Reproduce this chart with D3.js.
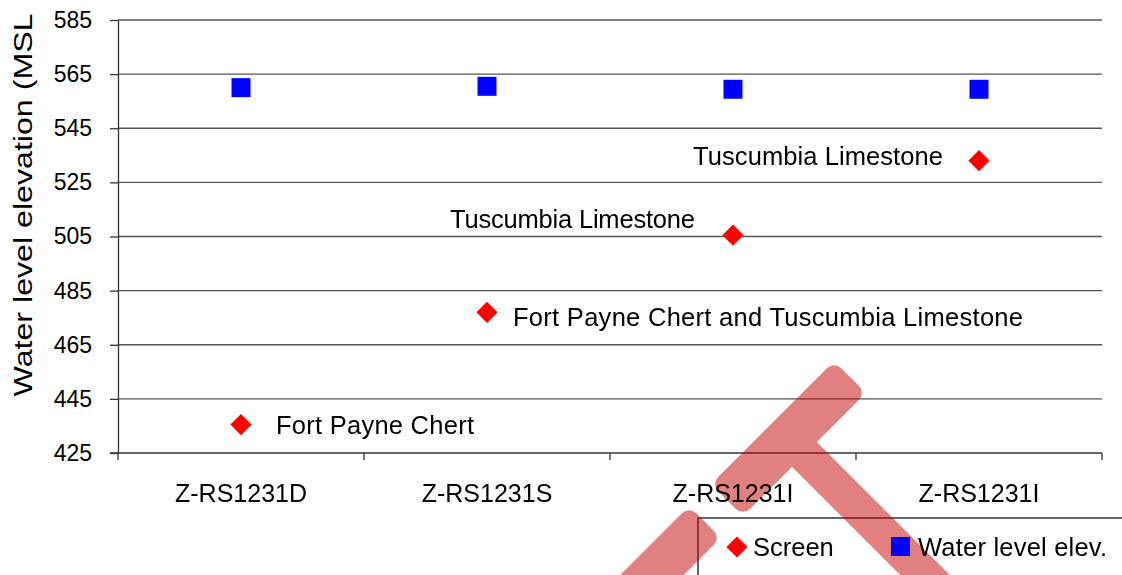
<!DOCTYPE html>
<html><head><meta charset="utf-8">
<script src="https://cdn.jsdelivr.net/npm/d3@7"></script>
<style>html,body{margin:0;padding:0;background:#fff;overflow:hidden}</style>
</head><body>
<svg id="c" width="1122" height="575"></svg>
<script>
const categories = ["Z-RS1231D", "Z-RS1231S", "Z-RS1231I", "Z-RS1231I"];
const screenValues = [435.5, 477, 505.5, 533];
const waterLevels = [560, 560.5, 559.4, 559.4];
const screenLabels = ["Fort Payne Chert", "Fort Payne Chert and Tuscumbia Limestone", "Tuscumbia Limestone", "Tuscumbia Limestone"];
const yTicks = [425, 445, 465, 485, 505, 525, 545, 565, 585];
const yTitle = "Water level elevation (MSL";
const legendLabels = ["Screen", "Water level elev."];

// layout (not data)
const labelLayout = [
  {dx: 35, dy: 9, anchor: "start", len: 198},
  {dx: 26, dy: 14, anchor: "start", len: 510},
  {dx: -38, dy: -7, anchor: "end", len: 245},
  {dx: -36, dy: 4, anchor: "end", len: 250}
];

const svg = d3.select("#c");
const font = "'Liberation Sans', Arial, sans-serif";
const m = {left: 118, right: 1102, top: 20, bottom: 453};
const x = d3.scaleBand().domain(d3.range(categories.length)).range([m.left, m.right]);
const y = d3.scaleLinear().domain([425, 585]).range([m.bottom, m.top]);
const cx = i => x(i) + x.bandwidth() / 2;

// gridlines
svg.append("g").selectAll("line").data(yTicks.filter(t => t > 425)).join("line")
  .attr("x1", m.left).attr("x2", m.right)
  .attr("y1", d => y(d)).attr("y2", d => y(d))
  .attr("stroke", "#555").attr("stroke-width", 1.3);

// y axis
const ya = svg.append("g").attr("transform", `translate(${m.left},0)`)
  .call(d3.axisLeft(y).tickValues(yTicks).tickSize(8).tickSizeOuter(0).tickPadding(18).tickFormat(d3.format("d")));
ya.select(".domain").attr("stroke", "#333").attr("stroke-width", 1.3);
ya.selectAll(".tick line").attr("stroke", "#333").attr("stroke-width", 1.3);
ya.selectAll(".tick text").attr("font-family", font).attr("font-size", 23).attr("fill", "#000");

// x axis
svg.append("line").attr("x1", m.left - 8).attr("x2", m.right)
  .attr("y1", m.bottom).attr("y2", m.bottom).attr("stroke", "#333").attr("stroke-width", 1.3);
const bounds = d3.range(categories.length + 1).map(i => i < categories.length ? x(i) : m.right);
svg.append("g").selectAll("line").data(bounds).join("line")
  .attr("x1", d => d).attr("x2", d => d).attr("y1", m.bottom).attr("y2", m.bottom + 7)
  .attr("stroke", "#333").attr("stroke-width", 1.3);

// legend box
svg.append("rect").attr("x", 698).attr("y", 518).attr("width", 440).attr("height", 80)
  .attr("fill", "none").attr("stroke", "#000").attr("stroke-width", 1.2);

// red overlay stamp
const st = svg.append("g").attr("opacity", 0.5).attr("fill", "rgb(192,0,0)");
[
  {x0: 850, y0: 377, len: 174, w: 45, a: 135},
  {x0: 705, y0: 522, len: 160, w: 45, a: 135},
  {x0: 785, y0: 435, len: 250, w: 35, a: 45}
].forEach(s => {
  st.append("rect").attr("x", 0).attr("y", -s.w / 2).attr("width", s.len).attr("height", s.w)
    .attr("rx", 10).attr("transform", `translate(${s.x0},${s.y0}) rotate(${s.a})`);
});

// category labels
svg.append("g").selectAll("text").data(categories).join("text")
  .attr("x", (d, i) => cx(i)).attr("y", 502).attr("text-anchor", "middle")
  .attr("font-family", font).attr("font-size", 25).attr("fill", "#000").text(d => d);

// y title
svg.append("text").attr("transform", `translate(32,205) rotate(-90)`)
  .attr("text-anchor", "middle").attr("font-family", font).attr("font-size", 25)
  .attr("textLength", 383).attr("lengthAdjust", "spacingAndGlyphs").text(yTitle);

// markers
const sq = d3.symbol().type(d3.symbolSquare).size(361);
const dm = d3.symbol().type(d3.symbolSquare).size(225);
svg.append("g").selectAll("path").data(waterLevels).join("path")
  .attr("d", sq).attr("transform", (d, i) => `translate(${cx(i)},${y(d)})`).attr("fill", "#0000ff");
svg.append("g").selectAll("path").data(screenValues).join("path")
  .attr("d", dm).attr("transform", (d, i) => `translate(${cx(i)},${y(d)}) rotate(45)`).attr("fill", "#ff0000");

// point labels
svg.append("g").selectAll("text").data(screenLabels).join("text")
  .attr("x", (d, i) => cx(i) + labelLayout[i].dx)
  .attr("y", (d, i) => y(screenValues[i]) + labelLayout[i].dy)
  .attr("text-anchor", (d, i) => labelLayout[i].anchor)
  .attr("textLength", (d, i) => labelLayout[i].len).attr("lengthAdjust", "spacing")
  .attr("font-family", font).attr("font-size", 25.5).attr("fill", "#000").text(d => d);

// legend content
const lg = svg.append("g");
lg.append("path").attr("d", dm).attr("transform", "translate(737,547) rotate(45)").attr("fill", "#ff0000");
lg.append("text").attr("x", 753).attr("y", 556).attr("font-family", font).attr("font-size", 25.5).text(legendLabels[0]);
lg.append("path").attr("d", sq).attr("transform", "translate(900.5,546.5)").attr("fill", "#0000ff");
lg.append("text").attr("x", 918).attr("y", 556).attr("font-family", font).attr("font-size", 25.5)
  .attr("textLength", 189).attr("lengthAdjust", "spacing").text(legendLabels[1]);
</script>
</body></html>
